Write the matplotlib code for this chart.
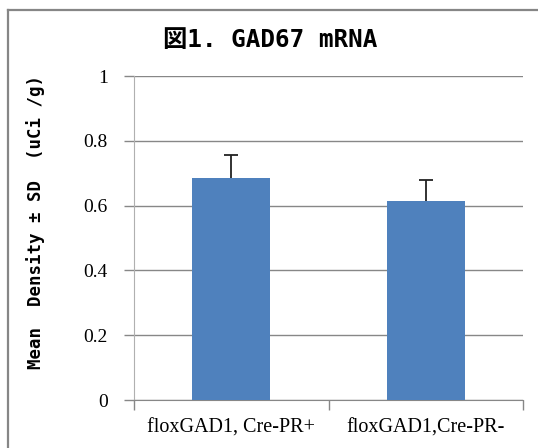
import matplotlib.pyplot as plt
from matplotlib.lines import Line2D

groups = ["floxGAD1, Cre-PR+", "floxGAD1,Cre-PR-"]
means = [0.685, 0.614]
sds = [0.071, 0.065]
yticks = [0, 0.2, 0.4, 0.6, 0.8, 1]
ytick_labels = ["0", "0.2", "0.4", "0.6", "0.8", "1"]

W, H = 538, 448
fig = plt.figure(figsize=(W / 100, H / 100), dpi=100)
ax = fig.add_axes([134 / W, 1 - 400 / H, (523 - 134) / W, (400 - 76) / H])

pos = list(range(len(groups)))
ax.bar(pos, means, width=0.4, color="#4F81BD", zorder=3)
# upper whisker only: hide the lower cap
_, caps, _ = ax.errorbar(pos, means, yerr=[[0] * len(sds), sds], fmt="none",
                         ecolor="#222222", elinewidth=1.3, capsize=5, capthick=1.3,
                         zorder=2.5)
caps[0].set_visible(False)

ax.set_xlim(-0.5, len(groups) - 0.5)
ax.set_ylim(0, 1)
ax.set_yticks(yticks)
ax.set_yticklabels(ytick_labels, family="Liberation Serif", fontsize=14)
ax.yaxis.grid(True, color="#878787", lw=1, zorder=0)
ax.tick_params(axis="y", length=7, width=1, color="#878787", pad=12)

ax.set_xticks(pos)
ax.set_xticklabels(groups, family="Liberation Serif", fontsize=14.5)
ax.tick_params(axis="x", which="major", length=0, pad=13)
ax.set_xticks([-0.5, 0.5, 1.5], minor=True)
ax.tick_params(axis="x", which="minor", length=7, width=1, color="#878787")

for s in ["top", "right"]:
    ax.spines[s].set_visible(False)
ax.spines["left"].set_color("#b0b0b0")
ax.spines["bottom"].set_color("#878787")

fig.text(270 / W, 1 - 40 / H, "図1. GAD67 mRNA", ha="center", va="center",
         family=["DejaVu Sans Mono", "Noto Sans CJK JP"], fontsize=17.5, fontweight="bold")
fig.text(36 / W, 1 - 222 / H, "Mean  Density ± SD  (uCi /g)", ha="center", va="center",
         rotation=90, family=["DejaVu Sans Mono", "Noto Sans CJK JP"], fontsize=12.5,
         fontweight="bold")

# outer chart border (left and top only visible)
fig.add_artist(Line2D([7.5 / W, 7.5 / W], [0, 1 - 10 / H], transform=fig.transFigure,
                      color="#868686", lw=1.6))
fig.add_artist(Line2D([7.5 / W, 1], [1 - 10 / H, 1 - 10 / H], transform=fig.transFigure,
                      color="#868686", lw=1.6))

fig.savefig("out.png", dpi=100)
